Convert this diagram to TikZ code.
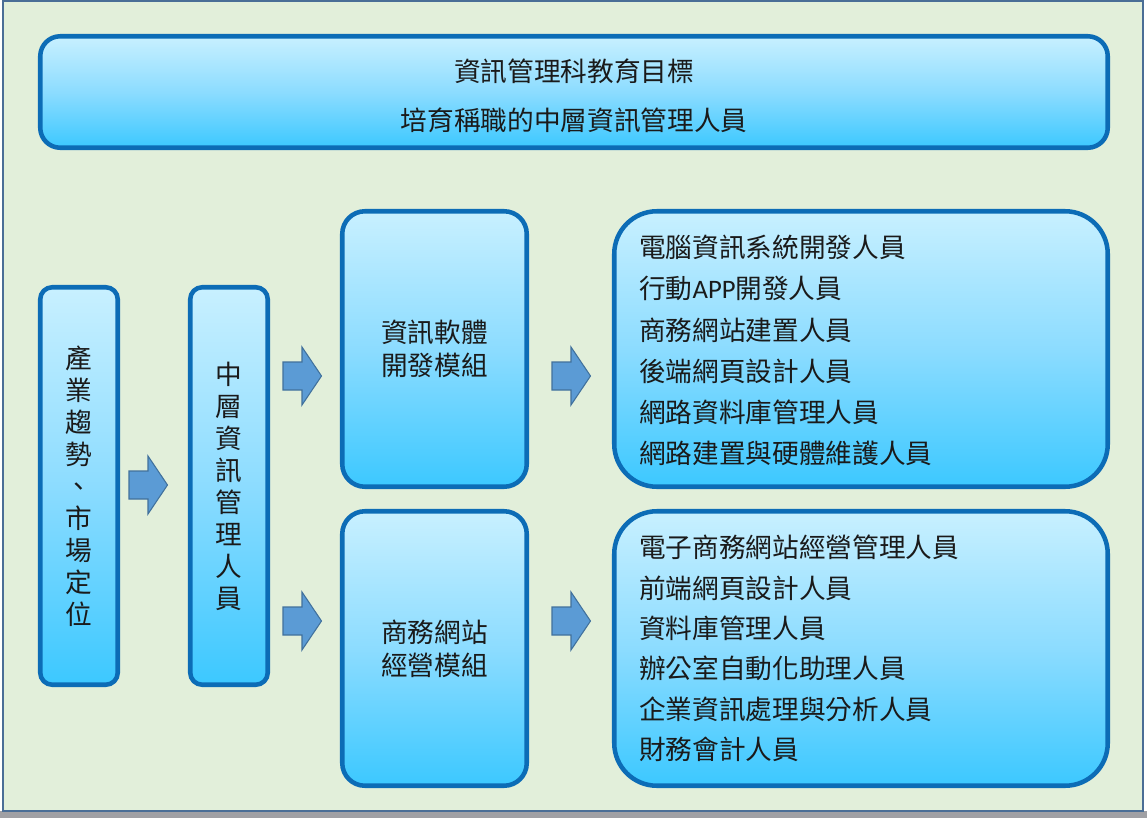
\documentclass[tikz,border=0pt]{standalone}
\usepackage{fontspec}
\setmainfont{Noto Sans CJK TC}
\newfontfamily\latinfont{Carlito}
\definecolor{bgc}{RGB}{226,239,218}
\definecolor{framec}{RGB}{74,110,150}
\definecolor{stripc}{RGB}{160,160,164}
\definecolor{boxline}{RGB}{12,108,182}
\definecolor{gTop}{RGB}{200,240,255}
\definecolor{gMid}{RGB}{140,220,255}
\definecolor{gBot}{RGB}{60,200,255}
\definecolor{arrfill}{RGB}{91,155,213}
\definecolor{arrline}{RGB}{65,113,156}
\definecolor{txt}{RGB}{26,26,26}
\tikzset{
  box/.style={draw=boxline, line width=3.4pt, rounded corners=#1,
    top color=gTop, bottom color=gBot, middle color=gMid,
    inner sep=0pt, text=txt},
  sz/.style 2 args={minimum width=#1*0.75pt, minimum height=#2*0.75pt},
  lbl/.style={inner sep=0pt, text=txt, align=left},
  blockarr/.style={fill=arrfill, draw=arrline, line width=0.8pt, line join=miter},
}
% block arrow: #1 = named coordinate of its left-middle point
\newcommand\myblockarrow[1]{%
  \draw[blockarr] ([shift={(0,-14)}]#1) -- ([shift={(19,-14)}]#1) -- ([shift={(19,-29)}]#1)
    -- ([shift={(38.5,0)}]#1) -- ([shift={(19,29)}]#1) -- ([shift={(19,14)}]#1)
    -- ([shift={(0,14)}]#1) -- cycle;}
\begin{document}
\begin{tikzpicture}[x=0.75pt,y=-0.75pt]
\useasboundingbox (0,0) rectangle (1147,818);
\fill[white] (0,0) rectangle (1147,818);
\fill[stripc] (0,811) rectangle (1147,818);
\draw[framec, line width=1.5pt, fill=bgc] (2.7,1) rectangle (1143,810.5);

% top box
\node[box=15pt, sz={1067.5}{111.5}] (top) at (574,92) {};
\node[lbl, align=center, font=\fontsize{20pt}{36.75pt}\selectfont] (toptext) at (574,95.5)
  {資訊管理科教育目標\\培育稱職的中層資訊管理人員};

% left columns
\node[box=9pt, sz={77.5}{397.5}, align=center,
      font=\fontsize{20pt}{24pt}\selectfont] (trend) at (79,486)
  {產\\業\\趨\\勢\\、\\市\\場\\定\\位};
\node[box=9pt, sz={77.5}{397.5}, align=center,
      font=\fontsize{20pt}{24pt}\selectfont] (mid) at (229,486)
  {中\\層\\資\\訊\\管\\理\\人\\員};

% module boxes
\node[box=17pt, sz={184.5}{275.5}, align=center,
      font=\fontsize{20pt}{24.75pt}\selectfont] (m1) at (434.5,349)
  {資訊軟體\\開發模組};
\node[box=17pt, sz={184.5}{274.5}, align=center,
      font=\fontsize{20pt}{24.75pt}\selectfont] (m2) at (434.5,648.5)
  {商務網站\\經營模組};

% job boxes
\node[box=32pt, sz={493.5}{275.5}] (r1) at (861,349) {};
\node[box=32pt, sz={493.5}{274.5}] (r2) at (861,648.5) {};

\node[lbl, anchor=west, font=\fontsize{20pt}{30.9pt}\selectfont] (r1t) at (639,350.5)
  {電腦資訊系統開發人員\\行動{\latinfont APP}開發人員\\商務網站建置人員\\後端網頁設計人員\\網路資料庫管理人員\\網路建置與硬體維護人員};
\node[lbl, anchor=west, font=\fontsize{20pt}{30.3pt}\selectfont] (r2t) at (639,648.5)
  {電子商務網站經營管理人員\\前端網頁設計人員\\資料庫管理人員\\辦公室自動化助理人員\\企業資訊處理與分析人員\\財務會計人員};

% block arrows
\coordinate (a0) at (129,485);
\coordinate (a1) at (283,376);
\coordinate (a2) at (283,621);
\coordinate (a3) at (552,376);
\coordinate (a4) at (552,621);
\myblockarrow{a0}
\myblockarrow{a1}
\myblockarrow{a2}
\myblockarrow{a3}
\myblockarrow{a4}
\end{tikzpicture}
\end{document}
